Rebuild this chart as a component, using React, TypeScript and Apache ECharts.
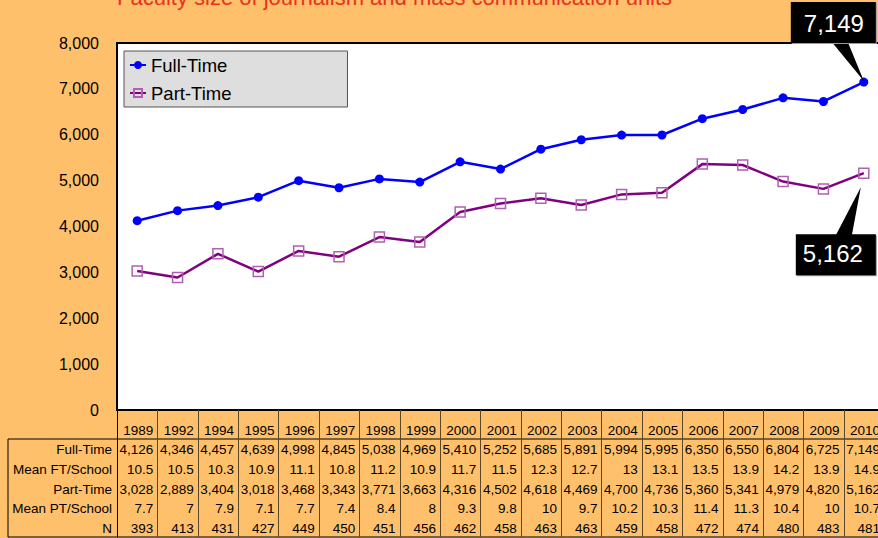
import React, { useEffect, useRef } from "react";
import * as echarts from "echarts";

const years = ["1989","1992","1994","1995","1996","1997","1998","1999","2000","2001","2002","2003","2004","2005","2006","2007","2008","2009","2010"];
const fullTime = [4126,4346,4457,4639,4998,4845,5038,4969,5410,5252,5685,5891,5994,5995,6350,6550,6804,6725,7149];
const meanFT = ["10.5","10.5","10.3","10.9","11.1","10.8","11.2","10.9","11.7","11.5","12.3","12.7","13","13.1","13.5","13.9","14.2","13.9","14.9"];
const partTime = [3028,2889,3404,3018,3468,3343,3771,3663,4316,4502,4618,4469,4700,4736,5360,5341,4979,4820,5162];
const meanPT = ["7.7","7","7.9","7.1","7.7","7.4","8.4","8","9.3","9.8","10","9.7","10.2","10.3","11.4","11.3","10.4","10","10.7"];
const nSchools = ["393","413","431","427","449","450","451","456","462","458","463","463","459","458","472","474","480","483","481"];
const rowLabels = ["Full-Time","Mean FT/School","Part-Time","Mean PT/School","N"];
const yTicks = [0, 8000, 1000];
const titleText = "Faculty size of journalism and mass communication units";

const BG = "#FFC06B";
const OFF = 20;
const FONT = '"Liberation Sans", Arial, sans-serif';

const fmt = (v: number) => v.toLocaleString("en-US");

export default function App() {
  const ref = useRef<HTMLDivElement>(null);
  useEffect(() => {
    document.body.style.margin = "0";
    const chart = echarts.init(ref.current!, null, { renderer: "svg" });
    const gridTop = 43 + OFF;
    const gridH = 367;
    chart.setOption({
      animation: false,
      backgroundColor: BG,
      textStyle: { fontFamily: FONT },
      grid: {
        left: 117, top: gridTop, width: 767, height: gridH,
        show: true, backgroundColor: "#fff", borderColor: "#000", borderWidth: 2,
        containLabel: false,
      },
      legend: {
        orient: "vertical", left: 124, top: 51 + OFF,
        backgroundColor: "#DEDEDE", borderColor: "#555", borderWidth: 1,
        padding: [4, 116, 4, 5], itemWidth: 16, itemHeight: 10, itemGap: 8,
        textStyle: { fontSize: 18.5, color: "#000", fontFamily: FONT, lineHeight: 20 },
        selectedMode: false,
        data: ["Full-Time", "Part-Time"],
      },
      xAxis: {
        type: "category", data: years, boundaryGap: true,
        axisLine: { show: false }, axisTick: { show: false }, axisLabel: { show: false },
      },
      yAxis: {
        type: "value", min: yTicks[0], max: yTicks[1], interval: yTicks[2],
        axisLine: { show: false }, axisTick: { show: false }, splitLine: { show: false },
        axisLabel: { fontSize: 16, color: "#000", margin: 18, fontFamily: FONT, formatter: (v: number) => fmt(v) },
      },
      series: [
        {
          name: "Full-Time", type: "line", data: fullTime,
          symbol: "circle", symbolSize: 9,
          lineStyle: { color: "#0000FF", width: 2.5 },
          itemStyle: { color: "#0000FF" },
          z: 3,
        },
        {
          name: "Part-Time", type: "line", data: partTime,
          symbol: "rect", symbolSize: 10,
          lineStyle: { color: "#800080", width: 2.5 },
          itemStyle: { color: "rgba(255,255,255,0)", borderColor: "#B060B0", borderWidth: 1.5 },
          z: 2,
        },
      ],
    });

    const c0 = chart.convertToPixel({ xAxisIndex: 0 }, 0) as number;
    const c1 = chart.convertToPixel({ xAxisIndex: 0 }, 1) as number;
    const band = c1 - c0;
    const g: any[] = [];
    const yRowTop = 410 + OFF;
    const tableTop = 439 + OFF;
    const rowH = 19.6;
    const tableBottom = tableTop + rowH * 5;
    const leftX = 8;
    const firstBoundary = c0 - band / 2;
    const lastBoundary = firstBoundary + band * years.length;
    const brown = "#5a4628";

    // title
    g.push({ type: "text", x: 117, y: -3 + OFF, style: { text: titleText, fill: "#E8331F", font: `22px ${FONT}`, align: "left", verticalAlign: "middle" } });

    // table lines
    g.push({ type: "line", shape: { x1: leftX, y1: tableTop, x2: lastBoundary + 2, y2: tableTop }, style: { stroke: "#000", lineWidth: 1 } });
    g.push({ type: "line", shape: { x1: leftX, y1: tableBottom, x2: lastBoundary + 2, y2: tableBottom }, style: { stroke: "#000", lineWidth: 1 } });
    g.push({ type: "line", shape: { x1: leftX, y1: tableTop, x2: leftX, y2: tableBottom }, style: { stroke: "#000", lineWidth: 1 } });
    for (let k = 0; k <= years.length; k++) {
      const x = Math.round(firstBoundary + band * k) + 0.5;
      g.push({ type: "line", shape: { x1: x, y1: yRowTop, x2: x, y2: tableBottom }, style: { stroke: k === 0 ? "#000" : brown, lineWidth: 1 } });
    }
    // row labels
    rowLabels.forEach((lab, r) => {
      g.push({ type: "text", x: 112, y: tableTop + rowH * (r + 0.5) + 1, style: { text: lab, fill: "#000", font: `13.5px ${FONT}`, align: "right", verticalAlign: "middle" } });
    });
    const rows = [fullTime.map(fmt), meanFT, partTime.map(fmt), meanPT, nSchools];
    years.forEach((yr, i) => {
      const cx = chart.convertToPixel({ xAxisIndex: 0 }, i) as number;
      const rx = cx + band / 2 - 4;
      g.push({ type: "text", x: rx, y: 430 + OFF, style: { text: yr, fill: "#000", font: `13.5px ${FONT}`, align: "right", verticalAlign: "middle" } });
      rows.forEach((row, r) => {
        g.push({ type: "text", x: rx, y: tableTop + rowH * (r + 0.5) + 1, style: { text: row[i], fill: "#000", font: `13.5px ${FONT}`, align: "right", verticalAlign: "middle" } });
      });
    });

    // callouts
    const last = years.length - 1;
    const [px1, py1] = chart.convertToPixel({ seriesIndex: 0 }, [last, fullTime[last]]) as number[];
    const [px2, py2] = chart.convertToPixel({ seriesIndex: 1 }, [last, partTime[last]]) as number[];
    g.push({ type: "polygon", z: 100, shape: { points: [[px1 - 32, py1 - 40], [px1 - 16, py1 - 40], [px1, py1 - 1]] }, style: { fill: "#000" } });
    g.push({ type: "rect", z: 100, shape: { x: px1 - 72, y: py1 - 79, width: 85, height: 41 }, style: { fill: "#999" } });
    g.push({ type: "rect", z: 101, shape: { x: px1 - 73, y: py1 - 80, width: 85, height: 41 }, style: { fill: "#000" } });
    g.push({ type: "text", z: 102, x: px1 - 30, y: py1 - 59, style: { text: fmt(fullTime[last]), fill: "#fff", font: `24px ${FONT}`, align: "center", verticalAlign: "middle" } });

    g.push({ type: "polygon", z: 100, shape: { points: [[px2 - 28, py2 + 62], [px2 - 12, py2 + 62], [px2 - 3, py2 + 14]] }, style: { fill: "#000" } });
    g.push({ type: "rect", z: 100, shape: { x: px2 - 67, y: py2 + 62, width: 80, height: 41 }, style: { fill: "#999" } });
    g.push({ type: "rect", z: 101, shape: { x: px2 - 68, y: py2 + 61, width: 80, height: 41 }, style: { fill: "#000" } });
    g.push({ type: "text", z: 102, x: px2 - 31, y: py2 + 80, style: { text: fmt(partTime[last]), fill: "#fff", font: `24px ${FONT}`, align: "center", verticalAlign: "middle" } });

    chart.setOption({ graphic: g });
    return () => chart.dispose();
  }, []);
  return (
    <div style={{ position: "fixed", left: 0, top: 0, width: 878, height: 538, overflow: "hidden", background: BG }}>
      <div ref={ref} style={{ position: "absolute", left: 0, top: -OFF, width: 890, height: 538 + OFF }} />
    </div>
  );
}
